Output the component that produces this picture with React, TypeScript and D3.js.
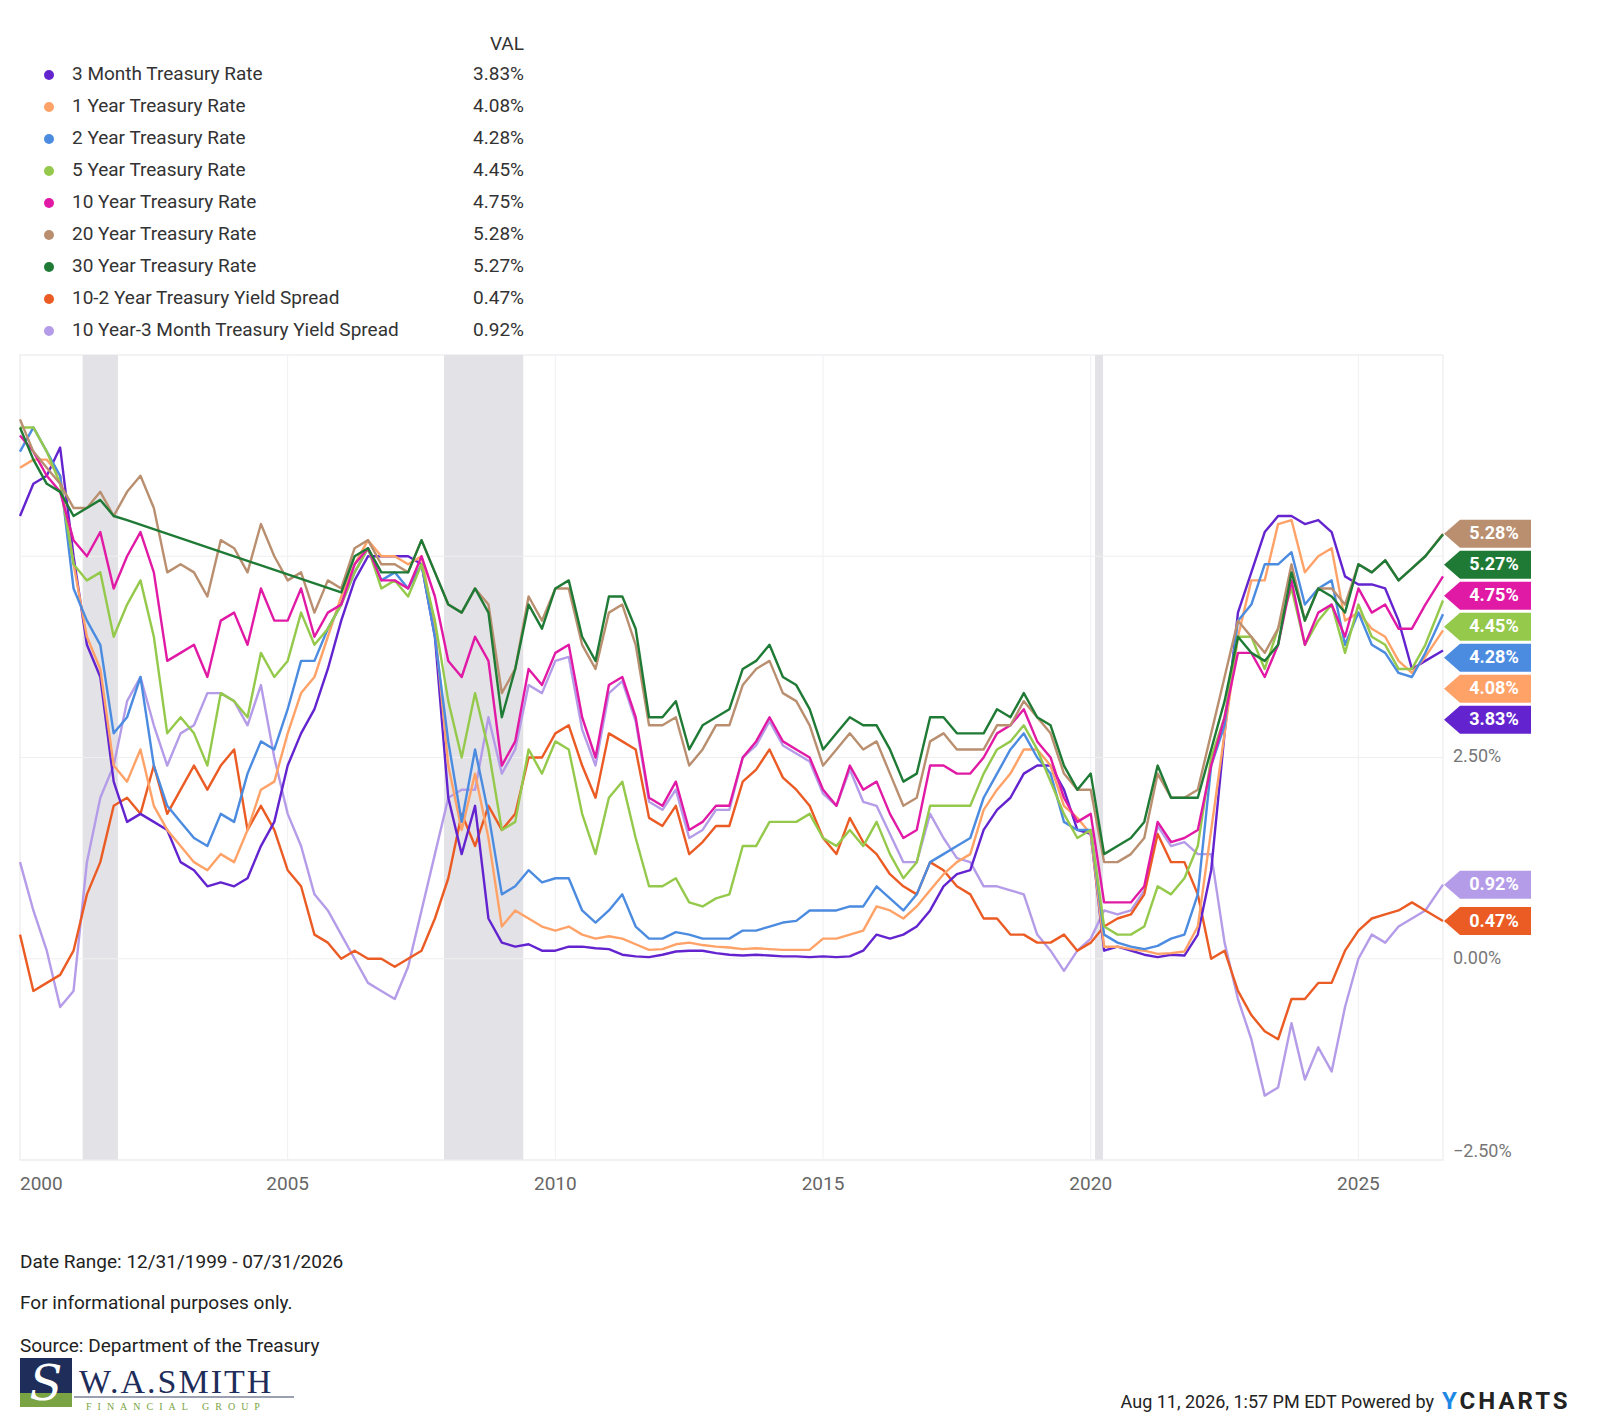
import React from 'react';
import * as d3 from 'd3';

// quarterly observations 2000.00 ... 2025.75, then 2026.00, 2026.25, 2026.58
const dates: number[] = [...d3.range(2000, 2026, 0.25), 2026, 2026.25, 2026.58];

const seriesNames = [
  '3 Month Treasury Rate',
  '1 Year Treasury Rate',
  '2 Year Treasury Rate',
  '5 Year Treasury Rate',
  '10 Year Treasury Rate',
  '20 Year Treasury Rate',
  '30 Year Treasury Rate',
  '10-2 Year Treasury Yield Spread',
  '10 Year-3 Month Treasury Yield Spread',
];
const seriesColors = ['#6324cf', '#ffa268', '#4b8be0', '#95c94b', '#e11aa6', '#b98f70', '#1f7a35', '#eb5b24', '#b59ce8'];

const m3 = [
  5.5, 5.9, 6.0, 6.35, 5.0, 3.9, 3.5, 2.2, 1.7, 1.8, 1.7, 1.6, 1.2, 1.1, 0.9, 0.95,
  0.9, 1.0, 1.4, 1.7, 2.4, 2.8, 3.1, 3.6, 4.2, 4.7, 5.0, 5.0, 5.0, 5.0, 4.9, 4.0,
  2.0, 1.3, 1.9, 0.5, 0.2, 0.15, 0.18, 0.1, 0.1, 0.15, 0.15, 0.13, 0.12, 0.05, 0.03, 0.02,
  0.05, 0.09, 0.1, 0.1, 0.07, 0.05, 0.04, 0.05, 0.04, 0.03, 0.03, 0.02, 0.03, 0.02, 0.03, 0.1,
  0.3, 0.25, 0.3, 0.4, 0.6, 0.9, 1.05, 1.1, 1.6, 1.85, 2.0, 2.3, 2.4, 2.4, 2.1, 1.6,
  1.55, 0.1, 0.15, 0.1, 0.05, 0.02, 0.05, 0.04, 0.3, 1.1, 2.8, 4.3, 4.8, 5.3, 5.5, 5.5,
  5.4, 5.45, 5.3, 4.75, 4.65, 4.65, 4.6, 4.2, 3.6, 3.7, 3.83,
];
const y1 = [
  6.1, 6.2, 6.2, 6.0, 4.9, 4.0, 3.6, 2.4, 2.2, 2.6, 1.9, 1.6, 1.4, 1.2, 1.1, 1.3,
  1.2, 1.6, 2.1, 2.2, 2.8, 3.3, 3.5, 4.0, 4.5, 4.9, 5.2, 5.0, 5.0, 4.9, 5.0, 4.1,
  2.4, 1.6, 2.3, 1.5, 0.4, 0.6, 0.5, 0.4, 0.35, 0.4, 0.3, 0.25, 0.28, 0.25, 0.18, 0.11,
  0.12, 0.18, 0.2, 0.17, 0.15, 0.14, 0.12, 0.13, 0.12, 0.11, 0.11, 0.11, 0.25, 0.25, 0.3, 0.35,
  0.65, 0.6, 0.5, 0.65, 0.85, 1.05, 1.2, 1.3, 1.85, 2.1, 2.3, 2.6, 2.6, 2.4, 1.9, 1.75,
  1.55, 0.15, 0.15, 0.12, 0.1, 0.06, 0.07, 0.09, 0.4, 1.6, 2.8, 4.0, 4.7, 4.7, 5.4, 5.45,
  4.8, 5.0, 5.1, 4.2, 4.3, 4.1, 4.0, 3.7, 3.55, 3.75, 4.08,
];
const y2 = [
  6.3, 6.6, 6.3, 6.0, 4.6, 4.2, 3.9, 2.8, 3.0, 3.5, 2.4, 1.9, 1.7, 1.5, 1.4, 1.8,
  1.7, 2.3, 2.7, 2.6, 3.1, 3.7, 3.7, 4.1, 4.4, 4.8, 5.1, 4.7, 4.8, 4.6, 4.9, 4.0,
  2.7, 1.7, 2.6, 1.8, 0.8, 0.9, 1.1, 0.95, 1.0, 1.0, 0.6, 0.45, 0.6, 0.8, 0.4, 0.25,
  0.25, 0.33, 0.3, 0.25, 0.25, 0.25, 0.35, 0.35, 0.4, 0.45, 0.47, 0.6, 0.6, 0.6, 0.65, 0.65,
  0.9, 0.75, 0.6, 0.8, 1.2, 1.3, 1.4, 1.5, 2.0, 2.3, 2.6, 2.8, 2.5, 2.3, 1.7, 1.6,
  1.6, 0.3, 0.2, 0.15, 0.12, 0.16, 0.25, 0.3, 0.8, 2.4, 2.9, 4.2, 4.4, 4.9, 4.9, 5.05,
  4.4, 4.6, 4.7, 3.9, 4.3, 3.9, 3.8, 3.55, 3.5, 3.8, 4.28,
];
const y5 = [
  6.6, 6.6, 6.3, 5.9, 4.9, 4.7, 4.8, 4.0, 4.4, 4.7, 4.0, 2.8, 3.0, 2.8, 2.4, 3.3,
  3.2, 3.0, 3.8, 3.5, 3.7, 4.3, 3.9, 4.1, 4.4, 4.8, 5.1, 4.6, 4.7, 4.5, 4.9, 4.2,
  3.2, 2.5, 3.3, 2.6, 1.6, 1.7, 2.6, 2.3, 2.7, 2.6, 1.8, 1.3, 2.0, 2.2, 1.5, 0.9,
  0.9, 1.0, 0.7, 0.65, 0.75, 0.8, 1.4, 1.4, 1.7, 1.7, 1.7, 1.8, 1.5, 1.4, 1.6, 1.4,
  1.7, 1.3, 1.0, 1.2, 1.9, 1.9, 1.9, 1.9, 2.3, 2.6, 2.7, 2.9, 2.6, 2.2, 1.8, 1.5,
  1.6, 0.4, 0.3, 0.3, 0.4, 0.9, 0.8, 1.0, 1.4, 2.5, 3.0, 4.0, 4.0, 3.6, 4.1, 4.6,
  3.9, 4.2, 4.4, 3.8, 4.4, 4.0, 3.9, 3.6, 3.6, 3.9, 4.45,
];
const y10 = [
  6.5, 6.3, 6.0, 5.8, 5.2, 5.0, 5.3, 4.6, 5.0, 5.3, 4.8, 3.7, 3.8, 3.9, 3.5, 4.2,
  4.3, 3.9, 4.6, 4.2, 4.2, 4.6, 4.0, 4.3, 4.4, 4.9, 5.1, 4.7, 4.7, 4.6, 5.0, 4.5,
  3.7, 3.5, 4.0, 3.7, 2.4, 2.7, 3.6, 3.4, 3.8, 3.9, 3.0, 2.5, 3.4, 3.5, 3.0, 2.0,
  1.9, 2.2, 1.6, 1.7, 1.9, 1.9, 2.5, 2.7, 3.0, 2.7, 2.6, 2.5, 2.1, 1.9, 2.4, 2.1,
  2.2, 1.8, 1.5, 1.6, 2.4, 2.4, 2.3, 2.3, 2.5, 2.8, 2.9, 3.1, 2.7, 2.5, 2.0, 1.7,
  1.8, 0.7, 0.7, 0.7, 0.9, 1.7, 1.45, 1.5, 1.6, 2.4, 3.0, 3.8, 3.8, 3.5, 3.9, 4.7,
  3.9, 4.3, 4.4, 4.0, 4.6, 4.3, 4.4, 4.1, 4.1, 4.4, 4.75,
];
const y20 = [
  6.7, 6.3, 6.1, 5.9, 5.6, 5.6, 5.8, 5.5, 5.8, 6.0, 5.6, 4.8, 4.9, 4.8, 4.5, 5.2,
  5.1, 4.8, 5.4, 5.0, 4.7, 4.8, 4.3, 4.7, 4.6, 5.1, 5.2, 4.9, 4.9, 4.8, 5.2, 4.8,
  4.4, 4.3, 4.6, 4.4, 3.3, 3.6, 4.5, 4.2, 4.6, 4.6, 3.9, 3.6, 4.3, 4.4, 3.9, 2.9,
  2.9, 3.0, 2.4, 2.6, 2.9, 2.9, 3.4, 3.6, 3.7, 3.3, 3.2, 2.9, 2.4, 2.6, 2.8, 2.6,
  2.7, 2.3, 1.9, 2.0, 2.7, 2.8, 2.6, 2.6, 2.6, 2.9, 2.9, 3.2, 3.0, 2.8, 2.3, 2.1,
  2.1, 1.2, 1.2, 1.3, 1.5, 2.3, 2.0, 2.0, 2.1, 2.8, 3.5, 4.2, 4.0, 3.8, 4.1, 4.9,
  4.2, 4.6, 4.6, 4.4, 4.9, 4.8, 4.95, 4.7, 4.85, 5.0, 5.28,
];
// 30-year bond was not issued between early 2002 and early 2006
const y30 = [
  6.6, 6.2, 5.9, 5.8, 5.5, 5.6, 5.7, 5.5, 5.45, null, null, null, null, null, null, null,
  null, null, null, null, null, null, null, null, 4.55, 5.0, 5.1, 4.8, 4.8, 4.8, 5.2, 4.8,
  4.4, 4.3, 4.6, 4.3, 3.0, 3.6, 4.4, 4.1, 4.6, 4.7, 4.0, 3.7, 4.5, 4.5, 4.1, 3.0,
  3.0, 3.2, 2.6, 2.9, 3.0, 3.1, 3.6, 3.7, 3.9, 3.5, 3.4, 3.1, 2.6, 2.8, 3.0, 2.9,
  2.9, 2.6, 2.2, 2.3, 3.0, 3.0, 2.8, 2.8, 2.8, 3.1, 3.0, 3.3, 3.0, 2.9, 2.4, 2.1,
  2.3, 1.3, 1.4, 1.5, 1.7, 2.4, 2.0, 2.0, 2.0, 2.6, 3.2, 4.0, 3.8, 3.7, 3.9, 4.8,
  4.2, 4.6, 4.5, 4.3, 4.9, 4.8, 4.95, 4.7, 4.85, 5.0, 5.27,
];
const s102 = [
  0.3, -0.4, -0.3, -0.2, 0.1, 0.8, 1.2, 1.9, 2.0, 1.8, 2.4, 1.8, 2.1, 2.4, 2.1, 2.4,
  2.6, 1.6, 1.9, 1.6, 1.1, 0.9, 0.3, 0.2, 0.0, 0.1, 0.0, 0.0, -0.1, 0.0, 0.1, 0.5,
  1.0, 1.8, 1.4, 1.9, 1.6, 1.8, 2.5, 2.5, 2.8, 2.9, 2.4, 2.0, 2.8, 2.7, 2.6, 1.75,
  1.65, 1.9, 1.3, 1.45, 1.65, 1.65, 2.2, 2.35, 2.6, 2.25, 2.1, 1.9, 1.5, 1.3, 1.75, 1.45,
  1.3, 1.05, 0.9, 0.8, 1.2, 1.1, 0.9, 0.8, 0.5, 0.5, 0.3, 0.3, 0.2, 0.2, 0.3, 0.1,
  0.2, 0.4, 0.5, 0.55, 0.8, 1.55, 1.2, 1.2, 0.8, 0.0, 0.1, -0.4, -0.7, -0.9, -1.0, -0.5,
  -0.5, -0.3, -0.3, 0.1, 0.35, 0.5, 0.55, 0.6, 0.7, 0.6, 0.47,
];
const s103m = [
  1.2, 0.6, 0.1, -0.6, -0.4, 1.2, 2.0, 2.4, 3.2, 3.5, 2.9, 2.4, 2.8, 2.9, 3.3, 3.3,
  3.2, 2.9, 3.4, 2.5, 1.8, 1.4, 0.8, 0.6, 0.3, 0.0, -0.3, -0.4, -0.5, -0.1, 0.6, 1.3,
  2.0, 2.1, 2.1, 3.0, 2.3, 2.6, 3.4, 3.3, 3.7, 3.75, 2.85, 2.4, 3.3, 3.45, 2.95, 1.95,
  1.85, 2.1, 1.5, 1.6, 1.85, 1.85, 2.5, 2.65, 2.95, 2.65, 2.55, 2.45, 2.05, 1.9, 2.35, 1.95,
  1.9, 1.55, 1.2, 1.2, 1.8, 1.5, 1.25, 1.2, 0.9, 0.9, 0.85, 0.8, 0.3, 0.1, -0.15, 0.1,
  0.25, 0.6, 0.55, 0.6, 0.85, 1.65, 1.4, 1.45, 1.3, 1.3, 0.2, -0.5, -1.0, -1.7, -1.6, -0.8,
  -1.5, -1.1, -1.4, -0.6, 0.0, 0.3, 0.2, 0.4, 0.5, 0.6, 0.92,
];
const seriesValues = [m3, y1, y2, y5, y10, y20, y30, s102, s103m];
const latestLabels = ['3.83%', '4.08%', '4.28%', '4.45%', '4.75%', '5.28%', '5.27%', '0.47%', '0.92%'];

const recessions: [number, number][] = [[2001.17, 2001.83], [2007.92, 2009.4], [2020.08, 2020.23]];
const yTicks = [-2.5, 0, 2.5];
const xTicks = [2000, 2005, 2010, 2015, 2020, 2025];

const W = 1600;
const H = 1424;
const FONT = 'Roboto, "Noto Sans", sans-serif';

export default function App() {
  const x = d3.scaleLinear().domain([2000, 2026.58]).range([20, 1443]);
  const y = d3.scaleLinear().domain([-2.5, 7.5]).range([1160, 355]);
  const line = d3.line<[number, number]>().x(d => x(d[0])).y(d => y(d[1]));
  const drawOrder = [8, 7, 0, 1, 2, 3, 4, 5, 6];

  // stacked value flags at the right edge, pushed apart so they don't overlap
  const flagOrder = d3.range(seriesValues.length).sort(
    (a, b) => seriesValues[b][seriesValues[b].length - 1]! - seriesValues[a][seriesValues[a].length - 1]!
  );
  const flagY: number[] = [];
  let prev = -Infinity;
  flagOrder.forEach(i => {
    const v = seriesValues[i][seriesValues[i].length - 1]!;
    const py = Math.max(y(v), prev + 31);
    flagY[i] = py;
    prev = py;
  });

  return (
    <svg width={W} height={H} style={{ display: 'block', margin: -8, background: '#fff' }} fontFamily={FONT}>
      {/* legend */}
      <text x={524} y={50} textAnchor="end" fontSize={19} fill="#333">VAL</text>
      {seriesNames.map((name, i) => (
        <g key={name} transform={`translate(0, ${75 + i * 32})`}>
          <circle cx={49} cy={0} r={5} fill={seriesColors[i]} />
          <text x={72} y={0} dominantBaseline="middle" fontSize={19} fill="#333">{name}</text>
          <text x={524} y={0} dominantBaseline="middle" textAnchor="end" fontSize={19} fill="#333">
            {latestLabels[i]}
          </text>
        </g>
      ))}

      {/* plot frame */}
      <rect x={20} y={355} width={1423} height={805} fill="none" stroke="#e8e8ec" />
      {recessions.map(([a, b]) => (
        <rect key={a} x={x(a)} y={355} width={x(b) - x(a)} height={805} fill="#e3e3e7" />
      ))}
      {yTicks.concat([5]).map(t => (
        <line key={t} x1={20} x2={1443} y1={y(t)} y2={y(t)} stroke="#efefef" />
      ))}
      {xTicks.slice(1).map(t => (
        <line key={t} x1={x(t)} x2={x(t)} y1={355} y2={1160} stroke="#f0f0f3" />
      ))}

      {/* series */}
      {drawOrder.map(i => {
        const pts = dates
          .map((d, k) => [d, seriesValues[i][k]] as [number, number | null])
          .filter(p => p[1] != null) as [number, number][];
        return (
          <path key={i} d={line(pts) ?? ''} fill="none" stroke={seriesColors[i]} strokeWidth={2.4}
            strokeLinejoin="round" />
        );
      })}

      {/* axes labels */}
      {xTicks.map(t => (
        <text key={t} x={t === 2000 ? 20 : x(t)} y={1190} textAnchor={t === 2000 ? 'start' : 'middle'}
          fontSize={19} fill="#666">{t}</text>
      ))}
      {yTicks.map(t => (
        <text key={t} x={1453} y={t === -2.5 ? y(t) - 8 : y(t)} dominantBaseline="middle" fontSize={18} fill="#777">
          {d3.format('.2f')(t)}%
        </text>
      ))}

      {/* value flags */}
      {seriesValues.map((_, i) => {
        const cy = flagY[i];
        const h = 28;
        return (
          <g key={i}>
            <path
              d={`M1444,${cy} L1460,${cy - h / 2} L1531,${cy - h / 2} L1531,${cy + h / 2} L1460,${cy + h / 2} Z`}
              fill={seriesColors[i]}
            />
            <text x={1494} y={cy + 1} textAnchor="middle" dominantBaseline="middle" fontSize={18}
              fontWeight="bold" fill="#fff">{latestLabels[i]}</text>
          </g>
        );
      })}

      {/* footer */}
      <text x={20} y={1268} fontSize={19} fill="#222">Date Range: 12/31/1999 - 07/31/2026</text>
      <text x={20} y={1309} fontSize={19} fill="#222">For informational purposes only.</text>
      <text x={20} y={1352} fontSize={19} fill="#222">Source: Department of the Treasury</text>
      <g>
        <rect x={20} y={1358} width={52} height={35} fill="#1f2d5a" />
        <rect x={20} y={1393} width={52} height={14} fill="#7aa444" />
        <text x={46} y={1400} textAnchor="middle" fontSize={48} fontStyle="italic" fill="#fff"
          fontFamily='"DejaVu Serif", serif'>S</text>
        <text x={79} y={1393} fontSize={34} fill="#1f2d5a" fontFamily='"Liberation Serif", serif'
          letterSpacing={2}>W.A.SMITH</text>
        <rect x={74} y={1396} width={220} height={2} fill="#9aa0b0" />
        <text x={86} y={1410} fontSize={10} fill="#7aa444" letterSpacing={6}
          fontFamily='"Liberation Serif", serif'>FINANCIAL GROUP</text>
      </g>
      <text x={1434} y={1408} textAnchor="end" fontSize={18} fill="#222">
        Aug 11, 2026, 1:57 PM EDT Powered by
      </text>
      <text x={1442} y={1409} fontSize={24} fontWeight="bold" letterSpacing={3} fill="#222">
        <tspan fill="#1e88e5">Y</tspan>CHARTS
      </text>
    </svg>
  );
}
